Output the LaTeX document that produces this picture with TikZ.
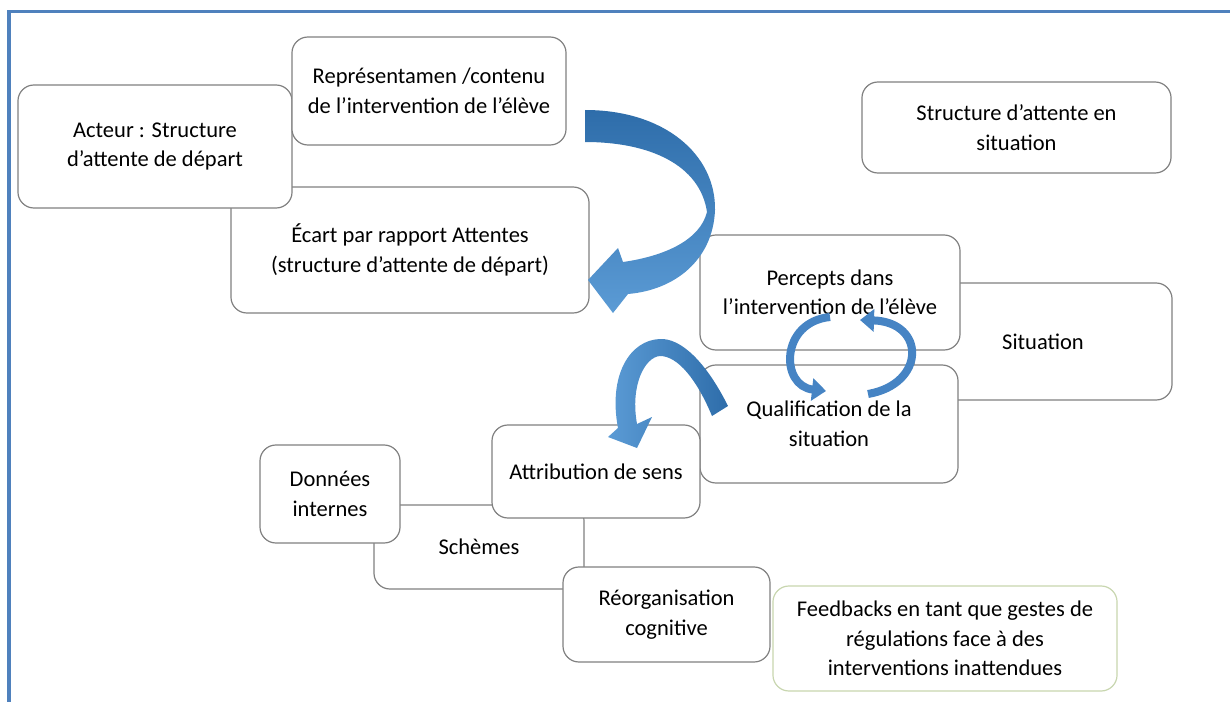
\documentclass[tikz,border=0pt]{standalone}
\usepackage{fontspec}
\setmainfont{Carlito}
\usetikzlibrary{arrows.meta}
\definecolor{framecol}{RGB}{79,129,189}
\definecolor{boxline}{RGB}{128,128,128}
\definecolor{greenline}{RGB}{200,214,175}
\definecolor{arrowdark}{RGB}{46,109,170}
\definecolor{arrowlight}{RGB}{91,155,213}
\definecolor{arrowmid}{RGB}{70,132,196}
\begin{document}
\begin{tikzpicture}[x=0.025cm,y=-0.025cm,
  box/.style={draw=boxline,line width=0.03cm,rounded corners=0.4cm,fill=white,
    align=center,inner sep=0pt,font=\fontsize{16}{21}\selectfont},
  smallarrow/.style={draw=arrowmid,line width=0.2cm,
    -{Triangle[width=0.55cm,length=0.35cm]}}]
\useasboundingbox (0,0) rectangle (1230,702);
\draw[framecol,line width=0.075cm] (1230,12) -- (9,12) -- (9,702);

% boxes, back to front
\node[box,minimum width=8.95cm,minimum height=3.15cm] (ecart) at (410,250) {Écart par rapport Attentes\\(structure d’attente de départ)};
\node[box,minimum width=6.85cm,minimum height=3.075cm] (act) at (155,146.5) {Acteur : Structure\\d’attente de départ};
\node[box,minimum width=6.85cm,minimum height=2.7cm] (rep) at (429,91) {Représentamen /contenu\\de l’intervention de l’élève};
\node[box,minimum width=7.725cm,minimum height=2.275cm] (sitattente) at (1016.5,127.5) {Structure d’attente en\\situation};
\node[box,minimum width=6.45cm,minimum height=2.925cm] (situation) at (1043,341.5) {Situation};
\node[box,minimum width=6.5cm,minimum height=2.875cm] (percepts) at (830,292.5) {Percepts dans\\l’intervention de l’élève};
\node[box,minimum width=6.45cm,minimum height=2.95cm] (qualif) at (829,424) {Qualification de la\\situation};
\node[box,minimum width=5.25cm,minimum height=2.1cm] (schemes) at (479,547) {Schèmes};
\node[box,minimum width=3.5cm,minimum height=2.45cm] (donnees) at (330,494) {Données\\internes};
\node[box,minimum width=5.2cm,minimum height=2.325cm] (attrib) at (596,471.5) {Attribution de sens};
\node[box,minimum width=5.175cm,minimum height=2.375cm] (reorg) at (666.5,614.5) {Réorganisation\\cognitive};
\node[box,draw=greenline,minimum width=8.6cm,minimum height=2.625cm] (feedback) at (945,638.5) {Feedbacks en tant que gestes de\\régulations face à des\\interventions inattendues};

% curved arrows
\shade[top color=arrowdark,bottom color=arrowlight]
  (585,110) .. controls (665,110) and (716,155) .. (715,210)
  .. controls (713,260) and (675,290) .. (628,294)
  -- (613,313) -- (588,280) -- (618,248) -- (623,262)
  .. controls (665,256) and (700,240) .. (707,212)
  .. controls (700,165) and (650,142) .. (585,142) -- cycle;
\shade[left color=arrowlight,right color=arrowdark]
  (728,406) .. controls (705,360) and (680,338) .. (660,339)
  .. controls (630,340) and (608,375) .. (618,428)
  -- (608,437) -- (637,448) -- (652,417) -- (637,424)
  .. controls (630,385) and (645,357) .. (660,356)
  .. controls (678,356) and (697,380) .. (712,416) -- cycle;
\draw[smallarrow] (830,317) .. controls (780,322) and (780,386) .. (826,391);
\draw[smallarrow] (868,394) .. controls (926,384) and (926,322) .. (860,320);

\end{tikzpicture}
\end{document}
